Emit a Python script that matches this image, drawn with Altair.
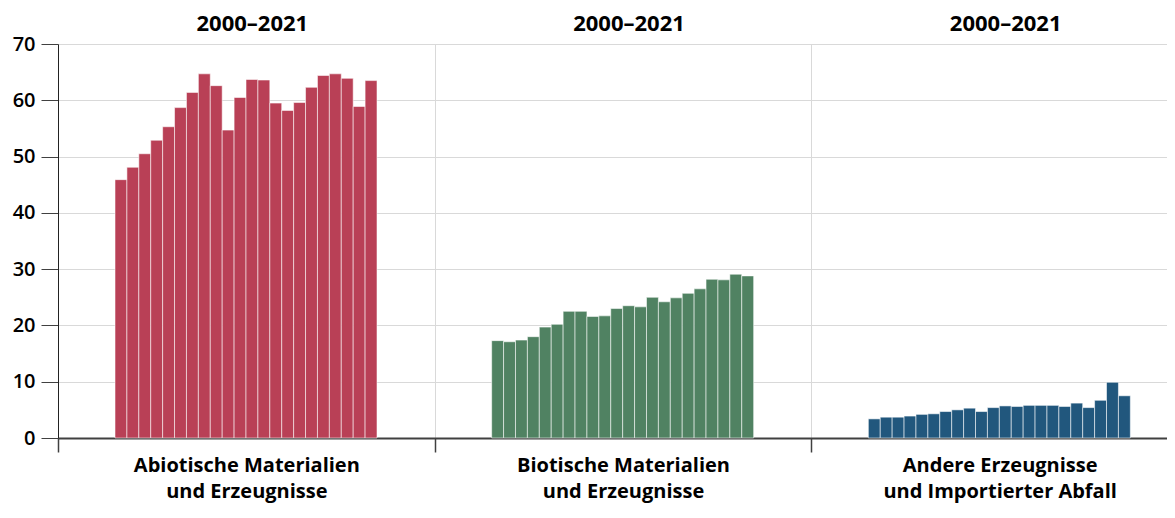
import altair as alt
import pandas as pd

years = list(range(2000, 2022))
groups = [
    "Abiotische Materialien|und Erzeugnisse",
    "Biotische Materialien|und Erzeugnisse",
    "Andere Erzeugnisse|und Importierter Abfall",
]
abiotic = [45.9, 48.1, 50.5, 52.9, 55.3, 58.7, 61.4, 64.7, 62.6, 54.7, 60.5,
           63.7, 63.6, 59.5, 58.2, 59.6, 62.3, 64.4, 64.7, 63.9, 58.9, 63.5]
biotic = [17.3, 17.1, 17.4, 18.0, 19.7, 20.2, 22.5, 22.5, 21.6, 21.7, 23.0,
          23.5, 23.3, 25.0, 24.2, 24.9, 25.7, 26.5, 28.2, 28.1, 29.1, 28.8]
other = [3.4, 3.7, 3.7, 3.9, 4.2, 4.3, 4.7, 5.0, 5.3, 4.7, 5.4,
         5.7, 5.6, 5.8, 5.8, 5.8, 5.6, 6.2, 5.4, 6.7, 9.9, 7.5]
colors = ["#B94056", "#508262", "#21577D"]
period = "2000\u20132021"
y_ticks = [0, 10, 20, 30, 40, 50, 60, 70]

rows = []
for g, vals in zip(groups, [abiotic, biotic, other]):
    for yr, v in zip(years, vals):
        rows.append({"group": g, "year": yr, "value": v})
df = pd.DataFrame(rows)
titles = pd.DataFrame({"group": groups, "period": [period] * len(groups)})

font = "Open Sans"
xscale = alt.Scale(domain=groups, range=[0, 1130], paddingInner=0, paddingOuter=0)
xaxis = alt.Axis(
    title=None,
    tickBand="extent",
    grid=True,
    gridColor="#d9d9d9",
    gridWidth=1,
    labelExpr="split(datum.label, '|')",
    labelAngle=0,
    labelLimit=500,
    labelFont=font,
    labelFontSize=20,
    labelFontWeight="bold",
    labelColor="#000000",
    labelLineHeight=26,
    labelPadding=3,
    domainColor="#404040",
    domainWidth=2,
    tickColor="#404040",
    tickSize=14,
    tickWidth=1.5,
)

bars = alt.Chart(df).mark_bar(stroke="white", strokeOpacity=0.55, strokeWidth=1).encode(
    x=alt.X("group:N", scale=xscale, sort=groups, axis=xaxis),
    xOffset=alt.XOffset("year:O", scale=alt.Scale(range=[57, 319], paddingOuter=0, paddingInner=0)),
    y=alt.Y(
        "value:Q",
        scale=alt.Scale(domain=[0, 70]),
        axis=alt.Axis(
            title=None,
            values=y_ticks,
            labelFont=font,
            labelFontSize=20,
            labelFontWeight=600,
            labelColor="#000000",
            labelPadding=6,
            tickSize=17,
            tickColor="#404040",
            domainColor="#222222",
            gridColor="#d9d9d9",
            gridWidth=1,
        ),
    ),
    color=alt.Color("group:N", scale=alt.Scale(domain=groups, range=colors), legend=None),
)

top = alt.Chart(titles).mark_text(
    font=font, fontSize=22, fontWeight="bold", color="#000000", baseline="middle", dx=6
).encode(
    x=alt.X("group:N", scale=xscale, sort=groups, axis=xaxis),
    y=alt.value(-20),
    text="period:N",
)

chart = alt.layer(bars, top).properties(
    width=1109,
    height=394,
    autosize=alt.AutoSizeParams(type="none"),
    padding={"left": 50, "top": 36, "right": 0, "bottom": 68},
).configure_view(stroke=None)

chart.save("out.html", embed_options={"renderer": "svg", "actions": False})
